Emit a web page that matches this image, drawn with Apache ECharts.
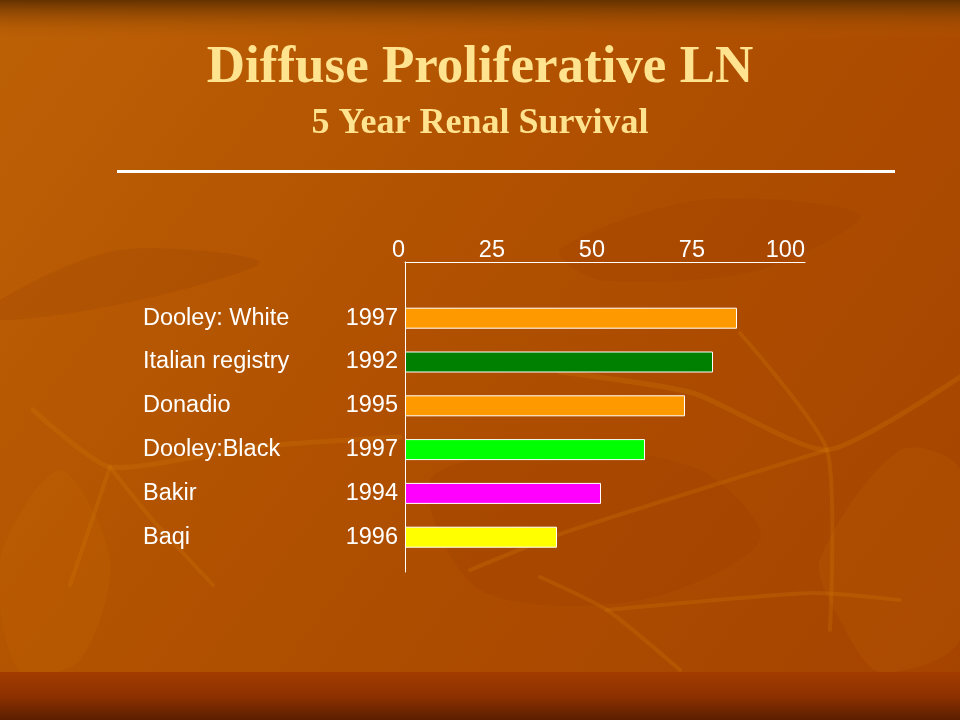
<!DOCTYPE html>
<html>
<head>
<meta charset="utf-8">
<script src="https://cdn.jsdelivr.net/npm/echarts@6/dist/echarts.min.js"></script>
<style>
  html, body { margin: 0; padding: 0; }
  #main { width: 960px; height: 720px; }
</style>
</head>
<body>
<div id="main"></div>
<script>
// data
var studies = ['Dooley: White', 'Italian registry', 'Donadio', 'Dooley:Black', 'Bakir', 'Baqi'];
var years = ['1997', '1992', '1995', '1997', '1994', '1996'];
var survival = [83, 77, 70, 60, 49, 38];
var barColors = ['#FF9900', '#008000', '#FF9900', '#00FF00', '#FF00FF', '#FFFF00'];
var xTicks = [0, 25, 50, 75, 100];

var chart = echarts.init(document.getElementById('main'));

var labelFont = 'Liberation Sans, Arial, sans-serif';

// faint leaf stems in the slide background
function stem(points, width) {
  return {
    type: 'polyline', z: -5, silent: true,
    shape: { points: points, smooth: 0.2 },
    style: { stroke: 'rgba(210,120,8,0.28)', lineWidth: width || 5, fill: null, lineCap: 'round' }
  };
}
function leaf(points, color) {
  return {
    type: 'polygon', z: -6, silent: true,
    shape: { points: points, smooth: 0.3 },
    style: { fill: color }
  };
}

var option = {
  backgroundColor: {
    type: 'linear', x: 0, y: 0, x2: 1, y2: 1,
    colorStops: [
      { offset: 0, color: '#BD6106' },
      { offset: 0.45, color: '#B05000' },
      { offset: 1, color: '#A54300' }
    ]
  },
  animation: false,
  graphic: [
    leaf([[0, 300], [120, 250], [260, 262], [140, 300], [0, 320]], 'rgba(150,58,0,0.2)'),
    leaf([[430, 480], [560, 450], [700, 470], [760, 540], [640, 600], [480, 590]], 'rgba(150,55,0,0.18)'),
    leaf([[0, 560], [60, 470], [110, 560], [80, 660], [20, 672]], 'rgba(205,112,10,0.15)'),
    leaf([[820, 560], [900, 450], [960, 470], [960, 640], [880, 672], [840, 620]], 'rgba(205,112,10,0.14)'),
    leaf([[560, 250], [700, 200], [860, 215], [760, 270], [600, 280]], 'rgba(150,58,0,0.16)'),
    stem([[33, 410], [110, 467], [250, 447], [400, 437]]),
    stem([[110, 467], [70, 585]], 4),
    stem([[110, 467], [150, 517], [213, 585]], 4),
    stem([[560, 372], [693, 393], [827, 450], [960, 377]]),
    stem([[740, 333], [827, 450], [830, 630]], 4),
    stem([[827, 450], [563, 533], [470, 570]], 4),
    stem([[540, 577], [607, 610], [680, 670]], 4),
    stem([[607, 610], [813, 593], [900, 600]], 4),
    // dark top edge
    {
      type: 'rect', z: -4, silent: true,
      shape: { x: 0, y: 0, width: 960, height: 40 },
      style: {
        fill: {
          type: 'linear', x: 0, y: 0, x2: 0, y2: 1,
          colorStops: [
            { offset: 0, color: 'rgba(100,50,0,1)' },
            { offset: 1, color: 'rgba(185,92,4,0)' }
          ]
        }
      }
    },
    // bottom band
    {
      type: 'rect', z: -4, silent: true,
      shape: { x: 0, y: 672, width: 960, height: 48 },
      style: {
        fill: {
          type: 'linear', x: 0, y: 0, x2: 0, y2: 1,
          colorStops: [
            { offset: 0, color: '#A23C00' },
            { offset: 0.5, color: '#8E3100' },
            { offset: 1, color: '#5A1E00' }
          ]
        }
      }
    },
    {
      type: 'text', silent: true,
      style: {
        text: 'Diffuse Proliferative LN',
        x: 480, y: 68, textAlign: 'center', textVerticalAlign: 'middle',
        fill: '#FFE38F',
        font: 'bold 53px "Liberation Serif", "Times New Roman", serif'
      }
    },
    {
      type: 'text', silent: true,
      style: {
        text: '5 Year Renal Survival',
        x: 480, y: 124, textAlign: 'center', textVerticalAlign: 'middle',
        fill: '#FFE38F',
        font: 'bold 36px "Liberation Serif", "Times New Roman", serif'
      }
    },
    {
      type: 'line', silent: true,
      shape: { x1: 117, y1: 171.5, x2: 895, y2: 171.5 },
      style: { stroke: '#FFFFFF', lineWidth: 3 }
    }
  ],
  grid: [
    { left: 405, right: 155, top: 296.3, height: 262.8 },
    { left: 405, right: 155, top: 262, height: 310 }
  ],
  xAxis: [
    {
      gridIndex: 0, type: 'value', min: 0, max: 100,
      show: false
    },
    {
      gridIndex: 1, type: 'value', min: xTicks[0], max: xTicks[xTicks.length - 1], interval: 25,
      position: 'top',
      axisLine: { show: true, onZero: false, lineStyle: { color: '#FFFFFF', width: 1 } },
      axisTick: { show: false },
      splitLine: { show: false },
      axisLabel: {
        color: '#FFFFFF', fontSize: 23.5, fontFamily: labelFont,
        margin: -1, align: 'right'
      }
    }
  ],
  yAxis: [
    {
      gridIndex: 0, type: 'category', inverse: true,
      data: studies,
      axisLine: { show: false },
      axisTick: { show: false },
      axisLabel: {
        margin: 7,
        formatter: function (v, i) {
          return '{n|' + v + '}{y|' + years[i] + '}';
        },
        rich: {
          n: { width: 200, align: 'left', color: '#FFFFFF', fontSize: 23.5, fontFamily: labelFont },
          y: { width: 55, align: 'right', color: '#FFFFFF', fontSize: 23.5, fontFamily: labelFont }
        }
      }
    },
    {
      gridIndex: 1, type: 'value', min: 0, max: 1,
      axisLine: { show: true, onZero: false, lineStyle: { color: '#FFFFFF', width: 1 } },
      axisTick: { show: false },
      axisLabel: { show: false },
      splitLine: { show: false }
    }
  ],
  series: [{
    type: 'bar',
    xAxisIndex: 0, yAxisIndex: 0,
    barWidth: 21,
    data: survival.map(function (v, i) {
      return { value: v, itemStyle: { color: barColors[i] } };
    }),
    itemStyle: { borderColor: '#FFFFFF', borderWidth: 1 }
  }]
};

chart.setOption(option);
</script>
</body>
</html>
